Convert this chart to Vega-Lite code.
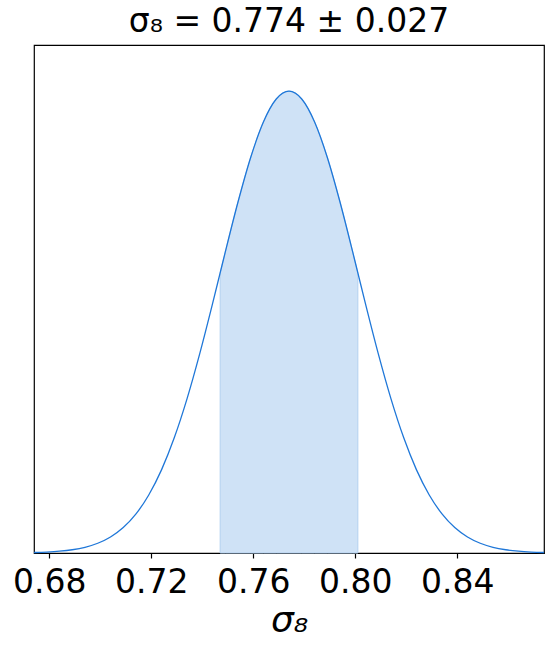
{
  "$schema": "https://vega.github.io/schema/vega-lite/v6.json",
  "autosize": {"type": "none"},
  "padding": {"left": 34, "top": 45, "right": 10, "bottom": 95},
  "width": 510,
  "height": 508,
  "background": "white",
  "config": {
    "font": "DejaVu Sans",
    "view": {"stroke": "black", "strokeWidth": 1.2}
  },
  "title": {
    "text": "σ₈ = 0.774 ± 0.027",
    "fontSize": 33,
    "fontWeight": "normal",
    "font": "DejaVu Sans",
    "color": "black",
    "anchor": "middle",
    "baseline": "bottom",
    "offset": 2,
    "dy": 29
  },
  "data": {
    "values": [
      {"x": 0.674, "p": 0.00105},
      {"x": 0.679, "p": 0.00205},
      {"x": 0.684, "p": 0.00386},
      {"x": 0.689, "p": 0.00705},
      {"x": 0.694, "p": 0.0124},
      {"x": 0.699, "p": 0.0211},
      {"x": 0.704, "p": 0.0347},
      {"x": 0.709, "p": 0.0551},
      {"x": 0.714, "p": 0.0847},
      {"x": 0.719, "p": 0.1256},
      {"x": 0.724, "p": 0.180},
      {"x": 0.729, "p": 0.2494},
      {"x": 0.734, "p": 0.3338},
      {"x": 0.739, "p": 0.4317},
      {"x": 0.744, "p": 0.5394},
      {"x": 0.747, "p": 0.6065},
      {"x": 0.749, "p": 0.6513},
      {"x": 0.754, "p": 0.760},
      {"x": 0.759, "p": 0.857},
      {"x": 0.764, "p": 0.9337},
      {"x": 0.769, "p": 0.983},
      {"x": 0.774, "p": 1.0},
      {"x": 0.779, "p": 0.983},
      {"x": 0.784, "p": 0.9337},
      {"x": 0.789, "p": 0.857},
      {"x": 0.794, "p": 0.760},
      {"x": 0.799, "p": 0.6513},
      {"x": 0.801, "p": 0.6065},
      {"x": 0.804, "p": 0.5394},
      {"x": 0.809, "p": 0.4317},
      {"x": 0.814, "p": 0.3338},
      {"x": 0.819, "p": 0.2494},
      {"x": 0.824, "p": 0.180},
      {"x": 0.829, "p": 0.1256},
      {"x": 0.834, "p": 0.0847},
      {"x": 0.839, "p": 0.0551},
      {"x": 0.844, "p": 0.0347},
      {"x": 0.849, "p": 0.0211},
      {"x": 0.854, "p": 0.0124},
      {"x": 0.859, "p": 0.00705},
      {"x": 0.864, "p": 0.00386},
      {"x": 0.869, "p": 0.00205},
      {"x": 0.874, "p": 0.00105}
    ]
  },
  "encoding": {
    "x": {
      "field": "x",
      "type": "quantitative",
      "scale": {"domain": [0.674, 0.874], "nice": false, "zero": false},
      "axis": {
        "values": [0.68, 0.72, 0.76, 0.80, 0.84],
        "format": ".2f",
        "grid": false,
        "domainColor": "black",
        "tickColor": "black",
        "tickSize": 5,
        "tickWidth": 1.2,
        "labelFontSize": 33,
        "labelColor": "black",
        "labelPadding": 8,
        "labelFont": "DejaVu Sans",
        "title": "σ₈",
        "titleFontSize": 36,
        "titleFontWeight": "normal",
        "titleFontStyle": "italic",
        "titleFont": "DejaVu Sans",
        "titleColor": "black",
        "titlePadding": 4
      }
    },
    "y": {
      "field": "p",
      "type": "quantitative",
      "scale": {"domain": [0, 1.1], "nice": false},
      "axis": null
    }
  },
  "layer": [
    {
      "transform": [{"filter": "datum.x >= 0.747 && datum.x <= 0.801"}],
      "mark": {"type": "area", "color": "#cfe2f6", "stroke": "#b3d1f0", "strokeWidth": 1, "interpolate": "monotone"}
    },
    {
      "mark": {"type": "line", "color": "#1f77d8", "strokeWidth": 1.3, "interpolate": "monotone"}
    }
  ]
}
